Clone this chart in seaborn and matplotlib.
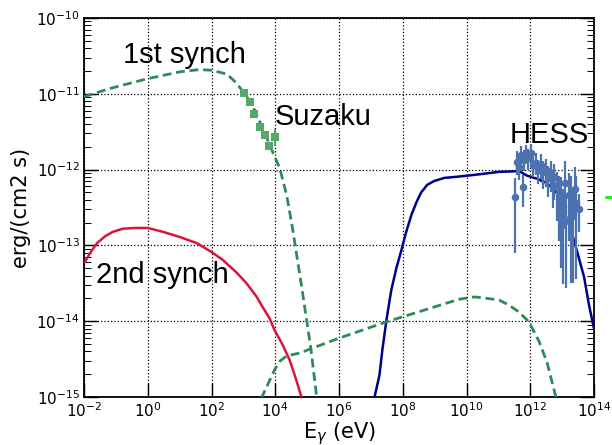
import numpy as np
import matplotlib
matplotlib.use("Agg")
import matplotlib.pyplot as plt
from matplotlib.lines import Line2D
from matplotlib.ticker import FixedLocator, NullLocator
import seaborn as sns

# All values are log10: energy in eV, flux E^2 dN/dE in erg/(cm2 s)

# primary synchrotron component
sync1_logE = [-2.00, -1.19, 0.00, 1.01, 1.63, 2.01, 2.48, 2.79, 2.98, 3.26,
              3.60, 3.89, 4.14, 4.36, 4.54, 4.83, 5.11, 5.30]
sync1_logF = [-11.04, -10.93, -10.80, -10.71, -10.68, -10.69, -10.74, -10.86,
              -10.97, -11.13, -11.45, -11.74, -11.98, -12.34, -12.77, -13.55,
              -14.34, -15.00]

# secondary synchrotron component
sync2_logE = [-1.97, -1.81, -1.59, -1.34, -1.09, -0.78, -0.40, 0.00, 0.47,
              1.01, 1.54, 2.01, 2.35, 2.79, 3.10, 3.42, 3.60, 3.82, 3.98,
              4.23, 4.45, 4.64, 4.83]
sync2_logF = [-13.22, -13.10, -12.97, -12.88, -12.82, -12.78, -12.77, -12.77,
              -12.82, -12.89, -12.97, -13.09, -13.19, -13.36, -13.50, -13.68,
              -13.81, -13.96, -14.12, -14.31, -14.51, -14.75, -15.01]

# inverse Compton from the primary electrons
ic1_logE = [7.11, 7.27, 7.36, 7.49, 7.64, 7.80, 7.96, 8.11, 8.27, 8.43, 8.58,
            8.77, 8.99, 9.30, 9.80, 10.24, 11.02, 11.65, 11.90, 12.21, 12.53,
            12.84, 13.06, 13.28, 13.47, 13.69, 13.84, 14.00]
ic1_logF = [-15.01, -14.71, -14.38, -13.98, -13.59, -13.30, -13.06, -12.82,
            -12.60, -12.43, -12.30, -12.20, -12.15, -12.11, -12.09, -12.07,
            -12.03, -12.02, -12.08, -12.12, -12.18, -12.31, -12.55, -12.80,
            -13.08, -13.42, -13.78, -14.10]

# inverse Compton from the secondary electrons
ic2_logE = [3.56, 3.76, 3.98, 4.14, 4.35, 4.76, 5.96, 7.48, 9.77, 10.24,
            10.49, 11.02, 11.34, 11.65, 11.96, 12.28, 12.53, 12.81]
ic2_logF = [-15.02, -14.84, -14.64, -14.53, -14.46, -14.42, -14.23, -14.01,
            -13.71, -13.68, -13.69, -13.72, -13.79, -13.88, -14.01, -14.27,
            -14.55, -15.01]

# Suzaku X-ray points
suzaku_logE = [3.01, 3.20, 3.33, 3.53, 3.69, 3.79, 3.99]
suzaku_logF = [-10.99, -11.11, -11.27, -11.44, -11.55, -11.69, -11.57]
suzaku_err_up = [0.0, 0.0, 0.0, 0.0, 0.0, 0.0, 0.10]
suzaku_err_dn = [0.0, 0.0, 0.0, 0.0, 0.0, 0.0, 0.12]

# HESS gamma-ray points (value, upper and lower error in dex)
hess_logE = [11.53, 11.59, 11.65, 11.71, 11.78, 11.81, 11.87, 11.93, 12.03,
             12.09, 12.18, 12.25, 12.34, 12.40, 12.50, 12.56, 12.65, 12.72,
             12.75, 12.84, 12.90, 12.97, 13.03, 13.09, 13.12, 13.22, 13.28,
             13.34, 13.40, 13.44, 13.53]
hess_logF = [-12.36, -11.90, -11.97, -11.81, -12.23, -11.87, -11.78, -11.85,
             -11.78, -11.94, -11.91, -12.01, -11.94, -12.03, -12.01, -12.11,
             -12.04, -12.20, -12.10, -12.23, -12.34, -12.40, -12.56, -12.18,
             -12.66, -12.34, -12.49, -12.60, -12.26, -12.44, -12.52]
hess_err_up = [0.25, 0.15, 0.14, 0.12, 0.16, 0.13, 0.10, 0.12, 0.12, 0.13,
               0.13, 0.14, 0.14, 0.15, 0.15, 0.16, 0.16, 0.18, 0.18, 0.20,
               0.25, 0.30, 0.30, 0.30, 0.35, 0.30, 0.40, 0.35, 0.30, 0.35, 0.20]
hess_err_dn = [0.74, 0.17, 0.17, 0.14, 0.26, 0.15, 0.13, 0.15, 0.15, 0.16,
               0.16, 0.18, 0.18, 0.22, 0.22, 0.25, 0.25, 0.30, 0.30, 0.45,
               0.60, 0.90, 0.95, 0.60, 0.90, 0.60, 1.00, 0.90, 0.40, 1.00, 0.30]

C_SYNC1 = "#2e8b57"
C_SYNC2 = "#dc143c"
C_IC1 = "#00008b"
C_SUZAKU = "#55a868"
C_HESS = "#4c72b0"

sns.set_style("ticks")
plt.rcParams["font.family"] = ["DejaVu Sans"]
plt.rcParams["mathtext.fontset"] = "dejavusans"
plt.rcParams["text.color"] = "black"
plt.rcParams["axes.labelcolor"] = "black"

fig = plt.figure(figsize=(6.12, 4.45), dpi=100)
ax = fig.add_axes([84 / 612, 48 / 445, 510 / 612, 379 / 445])
ax.set_xscale("log")
ax.set_yscale("log")


def pow10(v):
    return np.power(10.0, np.asarray(v, dtype=float))


dash = (0, (3.2, 1.7))
sns.lineplot(x=pow10(sync1_logE), y=pow10(sync1_logF), ax=ax, color=C_SYNC1,
             lw=2.0, linestyle=dash, estimator=None, sort=False, zorder=3)
sns.lineplot(x=pow10(sync2_logE), y=pow10(sync2_logF), ax=ax, color=C_SYNC2,
             lw=1.8, estimator=None, sort=False, zorder=3)
sns.lineplot(x=pow10(ic1_logE), y=pow10(ic1_logF), ax=ax, color=C_IC1,
             lw=1.8, estimator=None, sort=False, zorder=3)
sns.lineplot(x=pow10(ic2_logE), y=pow10(ic2_logF), ax=ax, color=C_SYNC1,
             lw=2.0, linestyle=dash, estimator=None, sort=False, zorder=3)

# Suzaku
sE, sF = pow10(suzaku_logE), pow10(suzaku_logF)
s_lo = sF - pow10(np.array(suzaku_logF) - np.array(suzaku_err_dn))
s_hi = pow10(np.array(suzaku_logF) + np.array(suzaku_err_up)) - sF
ax.errorbar(sE, sF, yerr=[s_lo, s_hi], fmt="none", ecolor=C_SUZAKU,
            elinewidth=1.5, capsize=0, zorder=4)
sns.scatterplot(x=sE, y=sF, ax=ax, color=C_SUZAKU, marker="s", s=32,
                linewidth=0, zorder=5)

# HESS
hE, hF = pow10(hess_logE), pow10(hess_logF)
h_lo = hF - pow10(np.array(hess_logF) - np.array(hess_err_dn))
h_hi = pow10(np.array(hess_logF) + np.array(hess_err_up)) - hF
ax.errorbar(hE, hF, yerr=[h_lo, h_hi], fmt="none", ecolor=C_HESS,
            elinewidth=1.6, capsize=0, zorder=4)
sns.scatterplot(x=hE, y=hF, ax=ax, color=C_HESS, marker="o", s=30,
                linewidth=0, zorder=5)

ax.set_xlim(1e-2, 1e14)
ax.set_ylim(1e-15, 1e-10)
ax.xaxis.set_major_locator(FixedLocator(pow10(np.arange(-2, 15, 2))))
ax.xaxis.set_minor_locator(NullLocator())

ax.grid(True, which="major", linestyle=":", color="k", linewidth=0.9)
ax.tick_params(which="both", direction="in", top=False, right=True,
               labelsize=11, colors="k")
ax.tick_params(which="major", length=10, width=1.0, pad=3)
ax.tick_params(which="minor", length=5, width=0.7)
for sp in ax.spines.values():
    sp.set_visible(True)
    sp.set_linewidth(1.3)
    sp.set_color("k")

ax.set_xlabel(r"E$_{\gamma}$ (eV)", fontsize=15, labelpad=0)
ax.set_ylabel("erg/(cm2 s)", fontsize=15, labelpad=4)

lab = dict(fontsize=21, family=["Liberation Sans", "DejaVu Sans"],
           color="black", ha="left", va="baseline", zorder=6)
ax.text(10 ** -0.78, 10 ** -10.59, "1st synch", **lab)
ax.text(10 ** 3.99, 10 ** -11.41, "Suzaku", **lab)
ax.text(10 ** 11.34, 10 ** -11.65, "HESS", **lab)
ax.text(10 ** -1.62, 10 ** -13.50, "2nd synch", **lab)

# edge of the neighbouring panel
fig.add_artist(Line2D([606 / 612, 1.0], [1 - 197 / 445, 1 - 197 / 445],
                      color="#22ee22", lw=2.2, transform=fig.transFigure))

fig.savefig("out.png", dpi=100)
